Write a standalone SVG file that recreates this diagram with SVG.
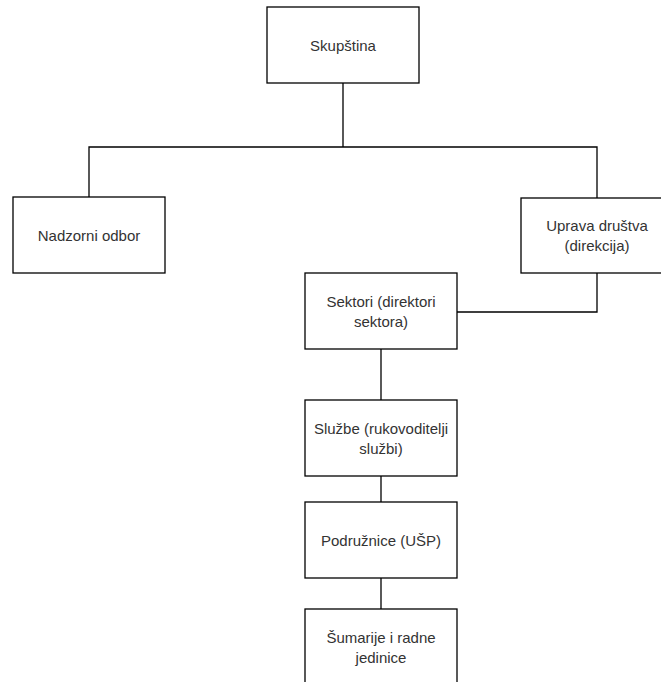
<svg xmlns="http://www.w3.org/2000/svg" width="661" height="682" viewBox="0 0 661 682">
<style>
.box{fill:#fff;stroke:#000;stroke-width:1.3}
.lbl{font-family:"Liberation Sans",Arial,sans-serif;font-size:15px;fill:#333;text-anchor:middle;dominant-baseline:central}
.edge{fill:none;stroke:#000;stroke-width:1.3}
</style>
<rect width="661" height="682" fill="#fff"/>
<g id="connectors">
<path class="edge" d="M343 83V147M89 197V147H597V198"/>
<path class="edge" d="M597 273V312H457"/>
<path class="edge" d="M381 349V400"/>
<path class="edge" d="M381 476V502"/>
<path class="edge" d="M381 578V609"/>
</g>
<g id="skupstina"><rect class="box" x="267" y="7" width="152" height="76"/><text class="lbl" x="343" y="45">Skupština</text></g>
<g id="nadzorni"><rect class="box" x="13" y="197" width="152" height="76"/><text class="lbl" x="89" y="235">Nadzorni odbor</text></g>
<g id="uprava"><rect class="box" x="521" y="198" width="152" height="75"/><text class="lbl" x="597" y="225.5">Uprava društva</text><text class="lbl" x="597" y="245.5">(direkcija)</text></g>
<g id="sektori"><rect class="box" x="305" y="273" width="152" height="76"/><text class="lbl" x="381" y="301">Sektori (direktori</text><text class="lbl" x="381" y="321">sektora)</text></g>
<g id="sluzbe"><rect class="box" x="305" y="400" width="152" height="76"/><text class="lbl" x="381" y="428">Službe (rukovoditelji</text><text class="lbl" x="381" y="448">službi)</text></g>
<g id="podruznice"><rect class="box" x="305" y="502" width="152" height="76"/><text class="lbl" x="381" y="540">Podružnice (UŠP)</text></g>
<g id="sumarije"><rect class="box" x="305" y="609" width="152" height="76"/><text class="lbl" x="381" y="637">Šumarije i radne</text><text class="lbl" x="381" y="657">jedinice</text></g>
</svg>
